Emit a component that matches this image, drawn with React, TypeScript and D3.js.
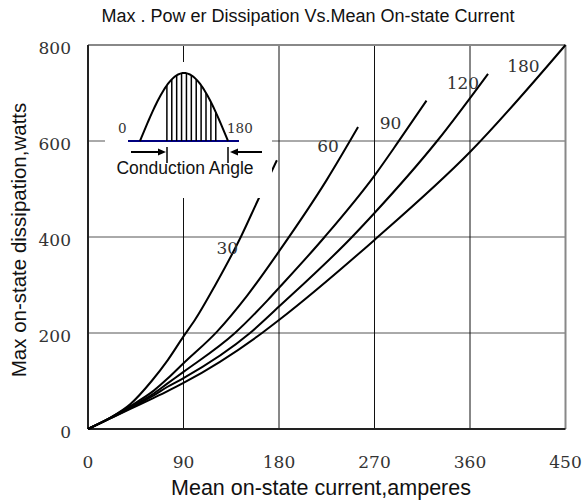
import React from "react";
import * as d3 from "d3";

const xTicks = [0, 90, 180, 270, 360, 450];
const yTicks = [0, 200, 400, 600, 800];

const seriesNames = ["30", "60", "90", "120", "180"];
const I30 = [0, 20, 40, 60, 75, 90, 101, 120, 144, 160, 178];
const P30 = [0, 22, 52, 100, 143, 193, 228, 300, 400, 476, 560];
const I60 = [0, 20, 40, 62, 75, 90, 121.6, 150, 180, 225, 254.5];
const P60 = [0, 22, 48, 80, 105, 137, 203, 278, 370, 519, 629];
const I90 = [0, 20, 40, 62, 75, 90, 138.5, 169.6, 180, 223, 270, 292, 319];
const P90 = [0, 22, 46, 74, 95, 119, 200, 269, 294, 400, 528, 597, 684];
const I120 = [0, 20, 40, 62, 75, 90, 152.7, 180, 248.8, 270, 329, 377];
const P120 = [0, 21, 44, 70, 88, 106, 200, 255, 400, 450, 600, 740];
const I180 = [0, 20, 40, 62, 75, 90, 164, 180, 270, 360, 450];
const P180 = [0, 21, 42, 65, 79, 96, 200, 227, 394, 577, 800];

// curve label anchors (data coords)
const labelI = [121, 216, 275, 338, 395];
const labelP = [365, 577, 625, 708, 744];

// inset illustration: conduction angle hatch (degrees)
const hatchAngles = [55, 65, 75, 85, 95, 105, 115, 125, 135, 145, 155];

const W = 585;
const H = 504;

export default function App() {
  const x = d3.scaleLinear().domain([0, 450]).range([88, 565.5]);
  const y = d3.scaleLinear().domain([0, 800]).range([429, 45]);

  const series = [
    [I30, P30],
    [I60, P60],
    [I90, P90],
    [I120, P120],
    [I180, P180],
  ];
  const line = d3
    .line<[number, number]>()
    .x((d) => x(d[0]))
    .y((d) => y(d[1]))
    .curve(d3.curveMonotoneX);

  // inset scales
  const ax = d3.scaleLinear().domain([0, 180]).range([140, 228]);
  const ay = d3.scaleLinear().domain([0, 1]).range([141, 73]);
  const angles = d3.range(0, 181, 3);
  const hump = d3
    .line<number>()
    .x((a) => ax(a))
    .y((a) => ay(Math.sin((a * Math.PI) / 180)));

  const serif = "'DejaVu Serif', serif";
  const sans = "'Liberation Sans', Arial, sans-serif";

  return (
    <svg width={W} height={H} style={{ position: "absolute", left: 0, top: 0 }}>
      <rect x={0} y={0} width={W} height={H} fill="#fff" />
      <text x={308} y={22} textAnchor="middle" fontFamily={sans} fontSize={18} fill="#111">
        Max . Pow er Dissipation Vs.Mean On-state Current
      </text>

      {/* grid */}
      {yTicks.slice(1, -1).map((t) => (
        <line key={"gy" + t} x1={x(0)} x2={x(450)} y1={y(t)} y2={y(t)} stroke="#555" strokeWidth={1} />
      ))}
      {xTicks.slice(1, -1).map((t) => (
        <line key={"gx" + t} x1={x(t)} x2={x(t)} y1={y(0)} y2={y(800)} stroke="#111" strokeWidth={1} />
      ))}

      {/* frame */}
      <line x1={x(0)} x2={x(450)} y1={y(800)} y2={y(800)} stroke="#888" strokeWidth={2} />
      <line x1={x(450)} x2={x(450)} y1={y(800)} y2={y(0)} stroke="#888" strokeWidth={2} />
      <line x1={x(0)} x2={x(0)} y1={y(800)} y2={y(0)} stroke="#222" strokeWidth={2} />
      <line x1={x(0)} x2={x(450)} y1={y(0)} y2={y(0)} stroke="#222" strokeWidth={2} />

      {/* curves */}
      {series.map(([xs, ps], i) => (
        <path
          key={"s" + i}
          d={line(xs.map((v, j) => [v, ps[j]] as [number, number])) || ""}
          fill="none"
          stroke="#000"
          strokeWidth={2}
        />
      ))}

      {/* curve labels */}
      {seriesNames.map((n, i) => (
        <text key={"l" + n} x={x(labelI[i])} y={y(labelP[i])} fontFamily={serif} fontSize={17} fill="#333">
          {n}
        </text>
      ))}

      {/* inset */}
      <rect x={105} y={62} width={167} height={136} fill="#fff" />
      <line x1={128} x2={239} y1={141} y2={141} stroke="#000080" strokeWidth={2} />
      <path d={hump(angles) || ""} fill="none" stroke="#000" strokeWidth={2} />
      {hatchAngles.map((a) => (
        <line
          key={"h" + a}
          x1={ax(a)}
          x2={ax(a)}
          y1={141}
          y2={ay(Math.sin((a * Math.PI) / 180))}
          stroke="#000"
          strokeWidth={1.5}
        />
      ))}
      <text x={118} y={133} fontFamily={serif} fontSize={13.5} fill="#333">0</text>
      <text x={227} y={133} fontFamily={serif} fontSize={13.5} fill="#333">180</text>
      {/* arrows */}
      <line x1={131} x2={160} y1={152} y2={152} stroke="#000" strokeWidth={2} />
      <path d="M166,152 L158,148.5 L158,155.5 Z" fill="#000" />
      <line x1={167} x2={167} y1={147} y2={163} stroke="#000" strokeWidth={1.5} />
      <line x1={262} x2={236} y1={152} y2={152} stroke="#000" strokeWidth={2} />
      <path d="M230,152 L238,148.5 L238,155.5 Z" fill="#000" />
      <line x1={228} x2={228} y1={147} y2={163} stroke="#000" strokeWidth={1.5} />
      <text x={185} y={174} textAnchor="middle" fontFamily={sans} fontSize={17.5} fill="#111">
        Conduction Angle
      </text>

      {/* tick labels */}
      {yTicks.map((t) => (
        <text key={"yt" + t} x={71} y={y(t) + 9} textAnchor="end" fontFamily={serif} fontSize={17} fill="#333">
          {t}
        </text>
      ))}
      {xTicks.map((t) => (
        <text key={"xt" + t} x={x(t)} y={468} textAnchor="middle" fontFamily={serif} fontSize={17} fill="#333">
          {t}
        </text>
      ))}

      {/* axis titles */}
      <text x={321} y={495} textAnchor="middle" fontFamily={sans} fontSize={21.5} fill="#111">
        Mean on-state current,amperes
      </text>
      <text
        transform="translate(26,240) rotate(-90)"
        textAnchor="middle"
        fontFamily={sans}
        fontSize={20.5}
        fill="#111"
      >
        Max on-state dissipation,watts
      </text>
    </svg>
  );
}
